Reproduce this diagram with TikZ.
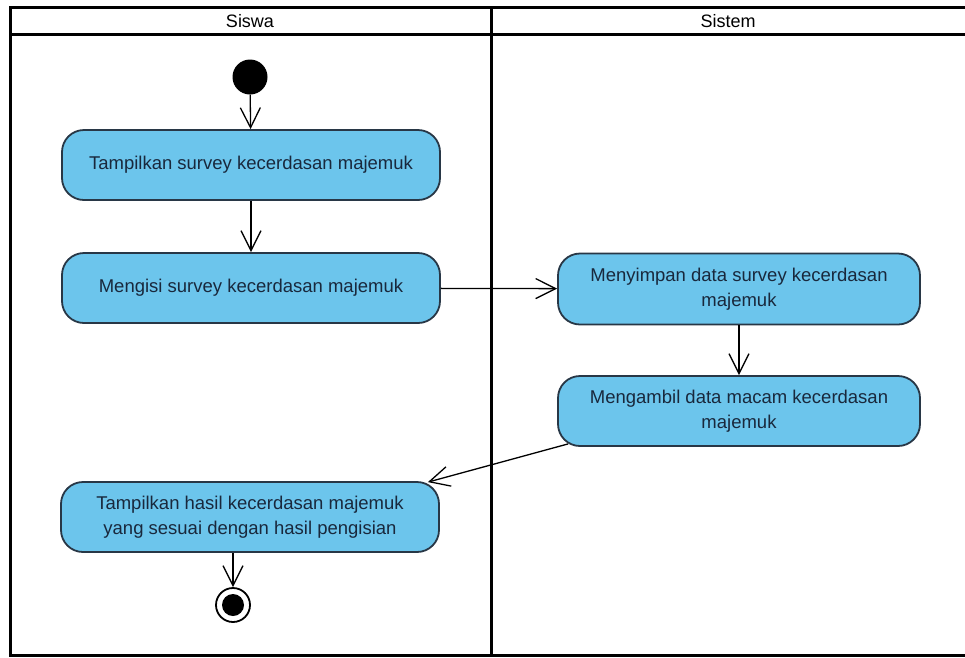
\documentclass[tikz,border=0pt]{standalone}
\usepackage{fontspec}
\setmainfont{Liberation Sans}
\usetikzlibrary{arrows.meta,calc}
\definecolor{actfill}{RGB}{108,197,236}
\definecolor{actdraw}{RGB}{40,55,70}
\definecolor{acttext}{RGB}{25,40,60}
\begin{document}
\begin{tikzpicture}[x=1pt,y=-1pt,
  act/.style={draw=actdraw, line width=1.8pt, fill=actfill, rounded corners=22pt,
    minimum width=378pt, minimum height=70pt, align=center, text=acttext,
    font=\fontsize{18.5}{25}\selectfont, inner sep=0pt},
  flow/.style={draw=black, line width=1.3pt,
    -{Straight Barb[length=20pt,width=20pt,line width=1.3pt]}},
  lane/.style={line width=3pt, draw=black},
  lanetitle/.style={font=\fontsize{18}{20}\selectfont, text=black, inner sep=0pt}]
\useasboundingbox (0,0) rectangle (965,657);
\fill[white] (0,0) rectangle (965,657);
% swimlanes
\draw[lane] (972,7) -- (10,7) -- (10,655) -- (972,655);
\draw[lane] (10,34) -- (972,34);
\draw[lane] (491,7) -- (491,655);
\node[lanetitle] (siswa) at (250,21) {Siswa};
\node[lanetitle] (sistem) at (728,21) {Sistem};
% nodes
\node[circle, fill=black, minimum size=35pt, inner sep=0pt] (start) at (250,77) {};
\node[act] (b1) at (251,165) {Tampilkan survey kecerdasan majemuk};
\node[act] (b2) at (251,288) {Mengisi survey kecerdasan majemuk};
\node[act, minimum width=362pt, minimum height=71pt] (b3) at (739,289) {Menyimpan data survey kecerdasan\\majemuk};
\node[act, minimum width=362pt] (b4) at (739,411) {Mengambil data macam kecerdasan\\majemuk};
\node[act] (b5) at (250,517) {Tampilkan hasil kecerdasan majemuk\\yang sesuai dengan hasil pengisian};
\node[circle, draw=black, line width=1.8pt, minimum size=34pt, inner sep=0pt] (end) at (233,605) {};
\fill[black] (end.center) circle (11pt);
% flows
\draw[flow] (start) -- (b1);
\draw[flow] (b1) -- (b2);
\draw[flow] (b2) -- (b3);
\draw[flow] (b3) -- (b4);
\coordinate (b4out) at ($(b4.south west)+(11,-3)$);
\coordinate (b5in) at ($(b5.north east)+(-12,1)$);
\draw[flow] (b4out) -- (b5in);
\draw[flow] (b5.south -| end) -- (end);
\end{tikzpicture}
\end{document}
